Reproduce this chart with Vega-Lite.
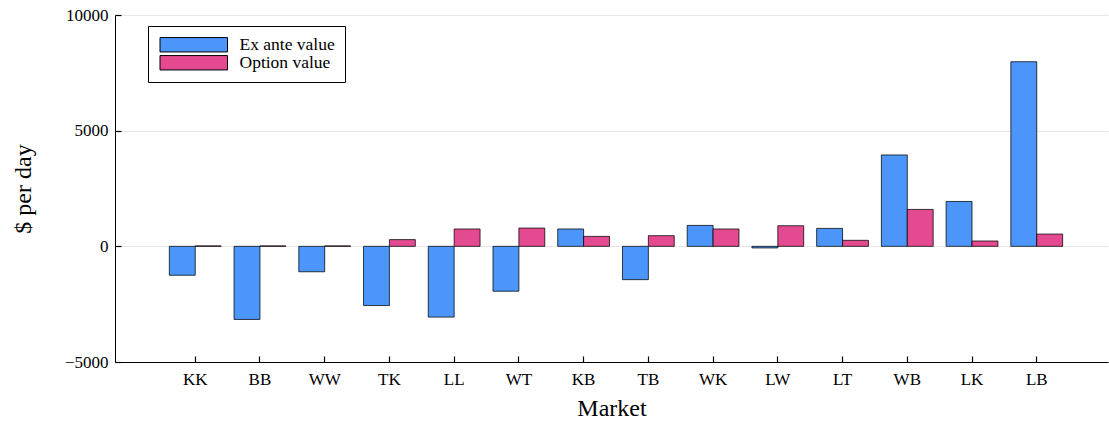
{
  "$schema": "https://vega.github.io/schema/vega-lite/v6.json",
  "width": 993,
  "height": 347,
  "autosize": "none",
  "padding": {"left": 115, "top": 15, "right": 1, "bottom": 60},
  "config": {
    "view": {"stroke": null},
    "font": "Liberation Serif",
    "axis": {
      "domainColor": "black",
      "domainWidth": 1,
      "ticks": true,
      "tickColor": "black",
      "tickSize": -6,
      "tickWidth": 1.2,
      "gridColor": "#e6e6e6",
      "gridWidth": 1,
      "labelFont": "Liberation Serif",
      "labelFontSize": 17,
      "labelColor": "black",
      "titleFont": "Liberation Serif",
      "titleFontSize": 24,
      "titleFontWeight": "normal",
      "titleColor": "black"
    }
  },
  "data": {
    "values": [
      {"market": "KK", "series": "Ex ante value", "value": -1250},
      {"market": "KK", "series": "Option value", "value": 20},
      {"market": "BB", "series": "Ex ante value", "value": -3160},
      {"market": "BB", "series": "Option value", "value": 20},
      {"market": "WW", "series": "Ex ante value", "value": -1100},
      {"market": "WW", "series": "Option value", "value": 20},
      {"market": "TK", "series": "Ex ante value", "value": -2560},
      {"market": "TK", "series": "Option value", "value": 290},
      {"market": "LL", "series": "Ex ante value", "value": -3060},
      {"market": "LL", "series": "Option value", "value": 750},
      {"market": "WT", "series": "Ex ante value", "value": -1940},
      {"market": "WT", "series": "Option value", "value": 790},
      {"market": "KB", "series": "Ex ante value", "value": 750},
      {"market": "KB", "series": "Option value", "value": 430},
      {"market": "TB", "series": "Ex ante value", "value": -1440},
      {"market": "TB", "series": "Option value", "value": 460},
      {"market": "WK", "series": "Ex ante value", "value": 905},
      {"market": "WK", "series": "Option value", "value": 750},
      {"market": "LW", "series": "Ex ante value", "value": -70},
      {"market": "LW", "series": "Option value", "value": 890},
      {"market": "LT", "series": "Ex ante value", "value": 775},
      {"market": "LT", "series": "Option value", "value": 260},
      {"market": "WB", "series": "Ex ante value", "value": 3950},
      {"market": "WB", "series": "Option value", "value": 1595},
      {"market": "LK", "series": "Ex ante value", "value": 1940},
      {"market": "LK", "series": "Option value", "value": 230},
      {"market": "LB", "series": "Ex ante value", "value": 7980},
      {"market": "LB", "series": "Option value", "value": 530}
    ]
  },
  "mark": {"type": "bar", "stroke": "black", "strokeWidth": 1, "strokeOpacity": 0.75, "opacity": 1},
  "encoding": {
    "x": {
      "field": "market",
      "type": "nominal",
      "sort": ["KK", "BB", "WW", "TK", "LL", "WT", "KB", "TB", "WK", "LW", "LT", "WB", "LK", "LB"],
      "scale": {"paddingInner": 0.2, "paddingOuter": 0.77, "align": 0.545},
      "axis": {
        "title": "Market",
        "labelAngle": 0,
        "bandPosition": 0.5,
        "labelPadding": 15,
        "titlePadding": 9
      }
    },
    "xOffset": {
      "field": "series",
      "sort": ["Ex ante value", "Option value"],
      "scale": {"paddingInner": 0, "paddingOuter": 0}
    },
    "y": {
      "field": "value",
      "type": "quantitative",
      "scale": {"domain": [-5000, 10000], "nice": false},
      "axis": {
        "title": "$ per day",
        "values": [-5000, 0, 5000, 10000],
        "format": "d",
        "labelPadding": 13,
        "titlePadding": 29
      }
    },
    "color": {
      "field": "series",
      "type": "nominal",
      "scale": {"domain": ["Ex ante value", "Option value"], "range": ["#4C96FB", "#E44A8F"]},
      "legend": {
        "title": null,
        "orient": "none",
        "legendX": 33,
        "legendY": 11,
        "strokeColor": "black",
        "fillColor": "white",
        "padding": 10,
        "cornerRadius": 0,
        "symbolType": "M-4.5,-0.96H4.5V0.96H-4.5Z",
        "symbolSize": 225,
        "symbolOffset": 27,
        "symbolStrokeColor": "black",
        "symbolStrokeWidth": 1,
        "symbolOpacity": 1,
        "labelOffset": 37,
        "labelFont": "Liberation Serif",
        "labelFontSize": 17.5,
        "labelColor": "black",
        "rowPadding": -5
      }
    }
  }
}
